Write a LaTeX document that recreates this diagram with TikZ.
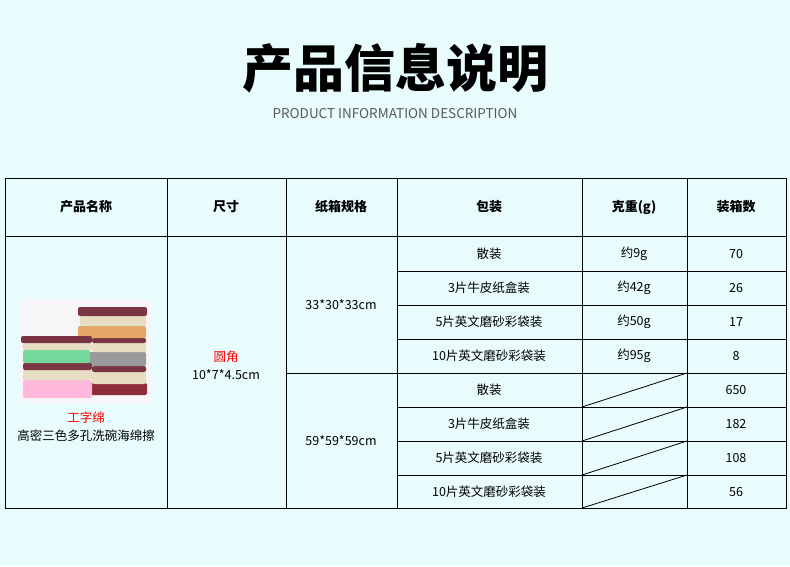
\documentclass[tikz,border=0pt]{standalone}
\usepackage{fontspec}
\setmainfont{Noto Sans CJK SC}
\newfontfamily\cjk{Noto Sans CJK SC}
\begin{document}
\begin{tikzpicture}[x=1pt,y=-1pt,
  grid/.style={draw=black,line width=0.8pt},
  hd/.style={font=\fontsize{13}{15}\selectfont\bfseries, anchor=center},
  bd/.style={font=\fontsize{12.5}{14}\selectfont, anchor=center},
  lay/.style={rounded corners=2pt}]
\definecolor{bg}{HTML}{E9FCFD}
\definecolor{mar}{HTML}{7A3442}
\definecolor{cream}{HTML}{E6DDC2}
\definecolor{photo}{HTML}{F6F6F8}
\fill[bg] (0,0) rectangle (790,566);
\useasboundingbox (0,0) rectangle (790,566);
\node[font=\fontsize{51}{55}\selectfont\bfseries] (title) at (395,68) {产品信息说明};
\node[font=\fontsize{13.5}{15}\selectfont, text=black!65] (sub) at (395,114) {PRODUCT INFORMATION DESCRIPTION};
% grid
\draw[grid] (5,178) rectangle (786,508);
\foreach \x in {167,286,397,582,687} \draw[grid] (\x,178) -- (\x,508);
\draw[grid] (5,236) -- (786,236);
\draw[grid] (286,373) -- (786,373);
\foreach \y in {271,305,339,407,441,475} \draw[grid] (397,\y) -- (786,\y);
\draw[grid] (582,407) -- (687,373);
\draw[grid] (582,441) -- (687,407);
\draw[grid] (582,475) -- (687,441);
\draw[grid] (582,508) -- (687,475);
% headers
\node[hd] (h1) at (86,207) {产品名称};
\node[hd] (h2) at (226,207) {尺寸};
\node[hd] (h3) at (341,207) {纸箱规格};
\node[hd] (h4) at (489,207) {包装};
\node[hd] (h5) at (634,207) {克重(g)};
\node[hd] (h6) at (736,207) {装箱数};
% body
\node[bd] (b1) at (341,305) {33*30*33cm};
\node[bd] (b2) at (341,441) {59*59*59cm};
\foreach \t/\y in {散装/254,3片牛皮纸盒装/288,5片英文磨砂彩袋装/322,10片英文磨砂彩袋装/356,散装/390,3片牛皮纸盒装/424,5片英文磨砂彩袋装/458,10片英文磨砂彩袋装/492}
  \node[bd] at (489,\y) {\t};
\foreach \t/\y in {约9g/254,约42g/288,约50g/322,约95g/356}
  \node[bd] at (634,\y) {\t};
\foreach \t/\y in {70/254,26/288,17/322,8/356,650/390,182/424,108/458,56/492}
  \node[bd] at (736,\y) {\t};
\node[bd,text=red] (r1) at (226,357) {圆角};
\node[bd] (r2) at (226,375) {10*7*4.5cm};
\node[bd,text=red] (p1) at (86,418) {工字绵};
\node[bd] (p2) at (86,436) {高密三色多孔洗碗海绵擦};
% sponge photo
\fill[photo] (20,299) rectangle (151,403);
% right stack
\fill[lay,mar!85!red] (90,383) rectangle (147,395);
\fill[lay,cream] (92,372) rectangle (146,384);
\fill[lay,mar] (92,366) rectangle (146,372);
\fill[lay,gray!80] (88,352) rectangle (146,366);
\fill[lay,cream] (92,343) rectangle (146,352);
\fill[lay,mar] (92,338) rectangle (146,343);
\fill[lay,orange!45!brown!70] (78,326) rectangle (146,338);
\fill[lay,cream] (80,316) rectangle (146,326);
\fill[lay,mar] (78,307) rectangle (147,316);
% left stack
\fill[lay,pink!80!magenta!70] (23,380) rectangle (92,398);
\fill[lay,cream] (23,370) rectangle (92,380);
\fill[lay,mar] (23,363) rectangle (92,370);
\fill[lay,green!45!teal!55] (23,350) rectangle (90,363);
\fill[lay,cream] (23,343) rectangle (92,350);
\fill[lay,mar] (21,336) rectangle (92,343);
\end{tikzpicture}
\end{document}
